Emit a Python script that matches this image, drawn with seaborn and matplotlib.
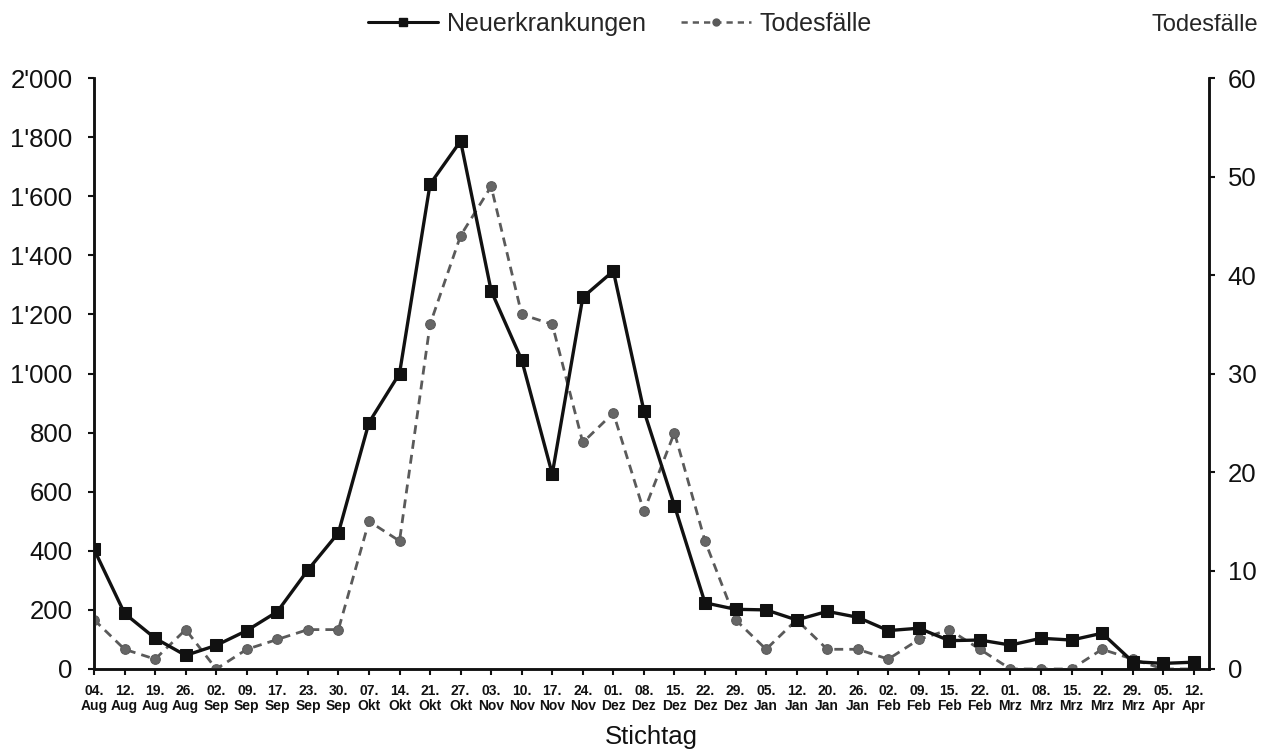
import matplotlib
matplotlib.use("Agg")
import matplotlib.pyplot as plt
import seaborn as sns
import pandas as pd
from matplotlib.lines import Line2D

days = ["04", "12", "19", "26", "02", "09", "17", "23", "30", "07", "14", "21", "27",
        "03", "10", "17", "24", "01", "08", "15", "22", "29", "05", "12", "20", "26",
        "02", "09", "15", "22", "01", "08", "15", "22", "29", "05", "12"]
months = ["Aug", "Aug", "Aug", "Aug", "Sep", "Sep", "Sep", "Sep", "Sep", "Okt", "Okt", "Okt", "Okt",
          "Nov", "Nov", "Nov", "Nov", "Dez", "Dez", "Dez", "Dez", "Dez", "Jan", "Jan", "Jan", "Jan",
          "Feb", "Feb", "Feb", "Feb", "Mrz", "Mrz", "Mrz", "Mrz", "Mrz", "Apr", "Apr"]
neuerkrankungen = [405, 188, 104, 46, 80, 130, 194, 335, 461, 834, 1000, 1641, 1787,
                   1280, 1046, 660, 1258, 1347, 874, 553, 224, 202, 200, 166, 195, 175,
                   130, 138, 96, 98, 81, 104, 98, 121, 25, 19, 23]
todesfaelle = [5, 2, 1, 4, 0, 2, 3, 4, 4, 15, 13, 35, 44,
               49, 36, 35, 23, 26, 16, 24, 13, 5, 2, 5, 2, 2,
               1, 3, 4, 2, 0, 0, 0, 2, 1, 0, 0]

labels = [f"{d}.\n{m}" for d, m in zip(days, months)]
df = pd.DataFrame({"pos": range(len(labels)), "Neuerkrankungen": neuerkrankungen,
                   "Todesfälle": todesfaelle})

sns.set_style("white")
plt.rcParams['font.family'] = ['Liberation Sans', 'DejaVu Sans']

fig = plt.figure(figsize=(12.64, 7.51), dpi=100)
ax = fig.add_axes([0.0744, 0.1092, 0.9565 - 0.0744, 0.896 - 0.1092])
ax2 = ax.twinx()

sns.lineplot(data=df, x="pos", y="Neuerkrankungen", ax=ax, color="#111111", linewidth=2.4,
             marker="s", markersize=8, markeredgecolor="#111111", markerfacecolor="#111111",
             sort=False, zorder=4)
sns.lineplot(data=df, x="pos", y="Todesfälle", ax=ax2, color="#5a5a5a", linewidth=2.0,
             linestyle=(0, (3.2, 2.2)), marker="o", markersize=7, markeredgecolor="#5a5a5a",
             markerfacecolor="#666666", sort=False, zorder=3)

ax.set_xlim(0, 36.5)
ax.set_ylim(0, 2000)
ax2.set_ylim(0, 60)
ax.set_yticks(range(0, 2001, 200))
ax.set_yticklabels([f"{v:,}".replace(",", "'") for v in range(0, 2001, 200)], fontsize=18.5)
ax2.set_yticks(range(0, 61, 10))
ax2.set_yticklabels([str(v) for v in range(0, 61, 10)], fontsize=18.5)
ax.set_xticks(list(range(len(labels))))
ax.set_xticklabels(labels, fontsize=10, linespacing=1.1, fontweight="bold", color="#222222")

ax.set_xlabel("Stichtag", fontsize=18.5, labelpad=9, color="#111111")
ax.set_ylabel("")
ax2.set_ylabel("")

for a in (ax, ax2):
    a.spines['top'].set_visible(False)
    for s in ('left', 'right', 'bottom'):
        a.spines[s].set_color("#111111")
        a.spines[s].set_linewidth(1.8)
    a.grid(False)
ax.tick_params(axis='y', direction='out', length=4.5, width=1.5, colors="#111111", pad=11, left=True)
ax.tick_params(axis='x', direction='out', length=4.5, width=1.5, colors="#111111", pad=6, bottom=True)
ax2.tick_params(axis='y', direction='out', length=4.5, width=1.5, colors="#111111", pad=9, right=True)
ax.set_zorder(ax2.get_zorder() + 1)
ax.patch.set_visible(False)

handles = [
    Line2D([], [], color="#111111", linewidth=2.2, marker="s", markersize=6),
    Line2D([], [], color="#5a5a5a", linewidth=1.8, linestyle=(0, (2.5, 2)), marker="o", markersize=5),
]
fig.legend(handles, ["Neuerkrankungen", "Todesfälle"], loc="center", bbox_to_anchor=(0.4905, 0.968),
           ncol=2, frameon=False, fontsize=18, handlelength=2.8, columnspacing=1.4,
           handletextpad=0.35)
fig.text(0.995, 0.967, "Todesfälle", ha="right", va="center", fontsize=17)

fig.savefig("out.png", dpi=100)
